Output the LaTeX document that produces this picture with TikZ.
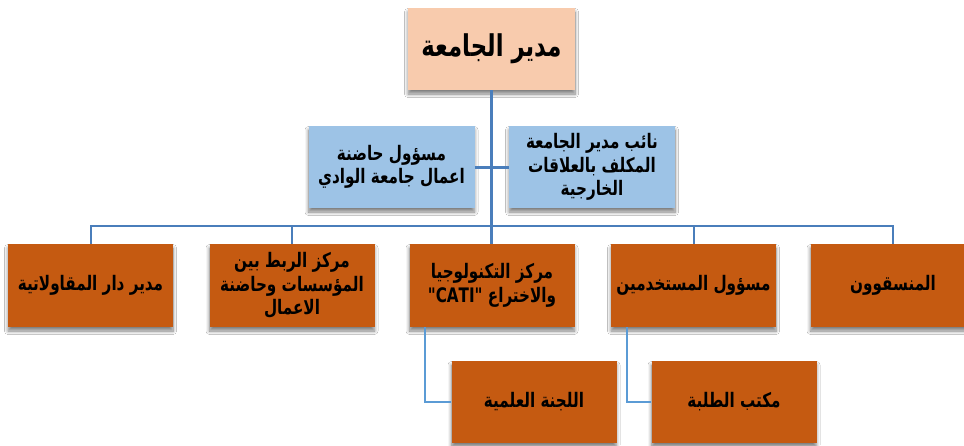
\documentclass[tikz,border=0pt]{standalone}
\usepackage{fontspec}
\TeXXeTstate=1
\newfontfamily\arabicfont[Script=Arabic, FakeStretch=0.76]{DejaVu Sans}
\usetikzlibrary{shadows.blur}
\definecolor{peach}{HTML}{F8CBAD}
\definecolor{paleblue}{HTML}{9DC3E6}
\definecolor{rust}{HTML}{C55A11}
\definecolor{linea}{HTML}{4A7EBB}
\definecolor{lineb}{HTML}{5B9BD5}
\tikzset{
  boxbase/.style={rectangle, inner sep=2pt, align=center, text=black,
    font=\arabicfont\bfseries\fontsize{20}{23.5}\selectfont,
    blur shadow={shadow xshift=0pt, shadow yshift=-4pt, shadow blur steps=8, shadow blur radius=3.5pt, shadow opacity=50}},
  topbox/.style={boxbase, fill=peach, minimum width=167pt, minimum height=82pt,
    font=\arabicfont\bfseries\fontsize{30}{32}\selectfont},
  bluebox/.style={boxbase, fill=paleblue, minimum width=166pt, minimum height=82pt},
  rustbox/.style={boxbase, fill=rust, minimum width=165pt, minimum height=83pt},
  mainline/.style={draw=linea, line width=3pt},
  busline/.style={draw=linea, line width=2pt},
  subline/.style={draw=lineb, line width=2pt},
}
\begin{document}
\begin{tikzpicture}[x=1pt,y=-1pt]
\clip (0,0) rectangle (964,445);
\fill[white] (0,0) rectangle (964,445);
\coordinate (busy) at (0,226);
\node[topbox] (top) at (491.5,49) {\beginR مدير الجامعة\endR};
\node[bluebox] (bl) at (391.5,167) {\beginR مسؤول حاضنة\endR\\\beginR اعمال جامعة الوادي\endR};
\node[bluebox] (br) at (592,167) {\beginR نائب مدير الجامعة\endR\\\beginR المكلف بالعلاقات\endR\\\beginR الخارجية\endR};
\node[rustbox] (b1) at (90.5,285.5) {\beginR مدير دار المقاولاتية\endR};
\node[rustbox] (b2) at (292,285.5) {\beginR مركز الربط بين\endR\\\beginR المؤسسات وحاضنة\endR\\\beginR الاعمال\endR};
\node[rustbox] (b3) at (492,285.5) {\beginR مركز التكنولوجيا\endR\\\beginR والاختراع \beginL"CATI"\endL\endR};
\node[rustbox] (b4) at (693.5,285.5) {\beginR مسؤول المستخدمين\endR};
\node[rustbox] (b5) at (893,285.5) {\beginR المنسقوون\endR};
\node[rustbox, minimum height=82pt] (l1) at (534,402) {\beginR اللجنة العلمية\endR};
\node[rustbox, minimum height=82pt] (l2) at (734,402) {\beginR مكتب الطلبة\endR};
\draw[mainline] (top.south) -- (top.south |- b3.north);
\draw[mainline] (bl.east) -- (br.west);
\draw[busline] (b1.north) -- (b1.north |- busy) -- (b5.north |- busy) -- (b5.north);
\draw[busline] (b2.north) -- (b2.north |- busy);
\draw[busline] (b4.north) -- (b4.north |- busy);
\draw[subline] ([xshift=16pt]b3.south west) |- (l1.west);
\draw[subline] ([xshift=16pt]b4.south west) |- (l2.west);
\end{tikzpicture}
\end{document}
